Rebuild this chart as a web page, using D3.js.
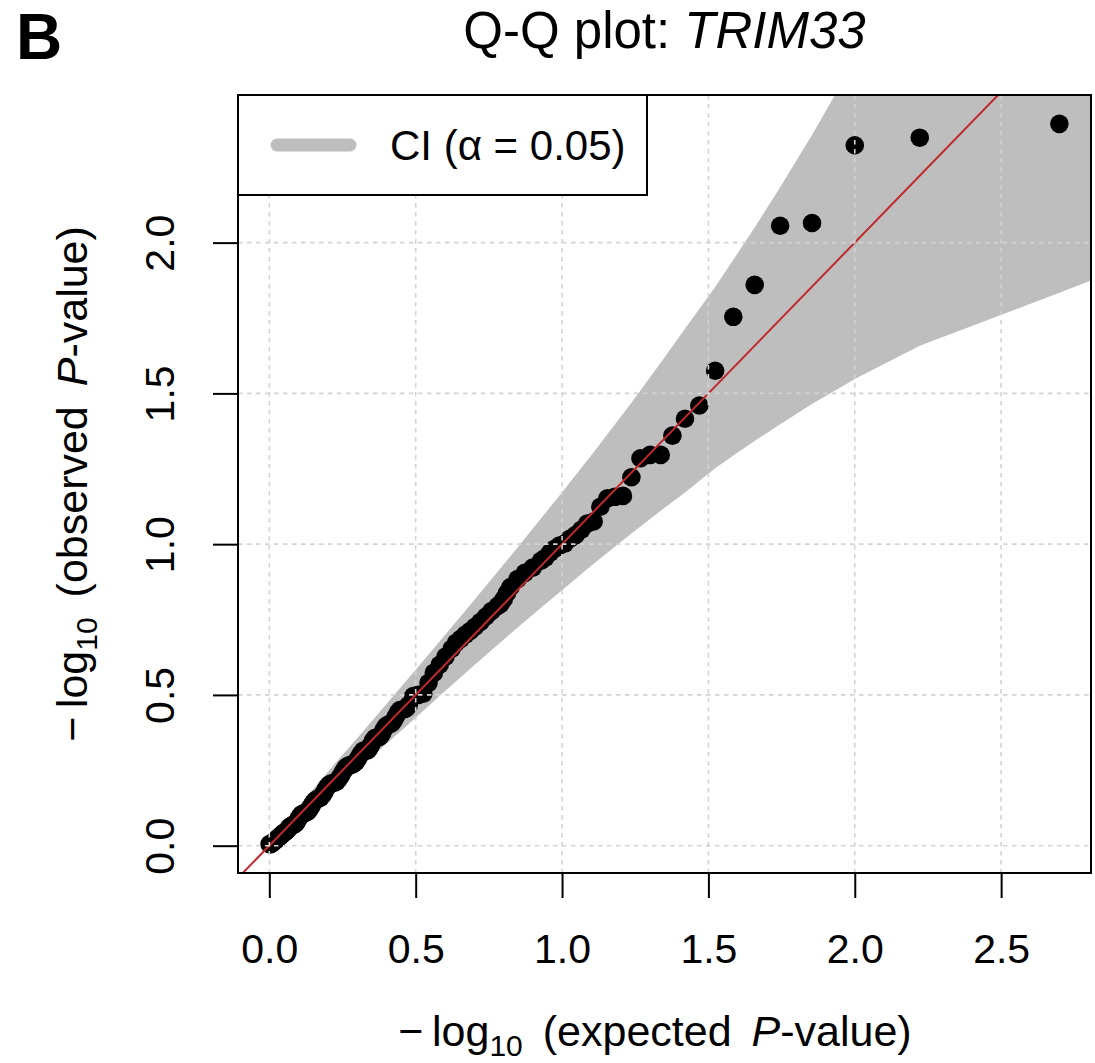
<!DOCTYPE html>
<html>
<head>
<meta charset="utf-8">
<script src="https://cdn.jsdelivr.net/npm/d3@7"></script>
<style>
  html, body { margin: 0; padding: 0; background: #fff; }
  svg { display: block; font-family: "Liberation Sans", Arial, sans-serif; }
</style>
</head>
<body>
<div id="chart"></div>
<script>
// ---- data ----
const expectedP = [2.699, 2.222, 2.000, 1.854, 1.745, 1.658, 1.585, 1.523, 1.469, 1.420,
  1.377, 1.337, 1.301, 1.268, 1.237, 1.208, 1.180, 1.155, 1.131, 1.108,
  1.086, 1.066, 1.046, 1.027, 1.009, 0.991, 0.975, 0.959, 0.943, 0.928,
  0.900, 0.873, 0.848, 0.824, 0.812, 0.801, 0.790, 0.780, 0.759, 0.740, 0.721, 0.703, 0.686, 0.670, 0.654, 0.638, 0.623,
  0.602, 0.582, 0.562, 0.544, 0.526, 0.509, 0.492,
  0.476, 0.468, 0.461, 0.453, 0.446, 0.439, 0.432, 0.425, 0.418, 0.411,
  0.405, 0.398, 0.391, 0.385, 0.379, 0.373, 0.367, 0.361, 0.355, 0.349,
  0.343, 0.337, 0.332, 0.326, 0.321, 0.312, 0.303, 0.295, 0.286, 0.278,
  0.269, 0.261, 0.253, 0.245, 0.238, 0.230, 0.223, 0.216, 0.209, 0.202,
  0.195, 0.188, 0.182, 0.175, 0.169, 0.162, 0.156, 0.150, 0.144, 0.138,
  0.132, 0.126, 0.120, 0.114, 0.109, 0.103, 0.098, 0.092, 0.087, 0.082,
  0.077, 0.072, 0.067, 0.062, 0.057, 0.052, 0.047, 0.042, 0.037, 0.032,
  0.028, 0.023, 0.019, 0.014, 0.010, 0.005, 0.001];
const observedP = [2.394, 2.348, 2.323, 2.065, 2.056, 1.860, 1.754, 1.575, 1.460, 1.416,
  1.360, 1.296, 1.296, 1.285, 1.222, 1.160, 1.157, 1.152, 1.124, 1.075,
  1.068, 1.048, 1.030, 1.018, 1.002, 0.995, 0.985, 0.972, 0.955, 0.945,
  0.922, 0.905, 0.884, 0.858, 0.838, 0.818, 0.802, 0.795, 0.778, 0.760, 0.742, 0.726, 0.712, 0.700, 0.686, 0.673, 0.653,
  0.627, 0.600, 0.573, 0.540, 0.504, 0.500, 0.496,
  0.466, 0.456, 0.453, 0.451, 0.450, 0.441, 0.428, 0.415, 0.406, 0.403,
  0.401, 0.396, 0.385, 0.373, 0.363, 0.359, 0.359, 0.357, 0.349, 0.337,
  0.325, 0.317, 0.316, 0.316, 0.315, 0.304, 0.289, 0.277, 0.270, 0.268,
  0.265, 0.259, 0.247, 0.233, 0.222, 0.212, 0.209, 0.208, 0.205, 0.200,
  0.191, 0.178, 0.168, 0.159, 0.157, 0.154, 0.150, 0.142, 0.132, 0.122,
  0.114, 0.110, 0.108, 0.106, 0.103, 0.095, 0.086, 0.076, 0.071, 0.070,
  0.067, 0.064, 0.059, 0.052, 0.047, 0.044, 0.041, 0.036, 0.031, 0.028,
  0.024, 0.019, 0.017, 0.012, 0.008, 0.005, 0.005];

// confidence band (alpha = 0.05)
const ciX     = [3.000, 2.699, 2.222, 2.000, 1.854, 1.745, 1.658, 1.585, 1.523, 1.420, 1.337, 1.237, 1.108, 1.009, 0.928, 0.801, 0.703, 0.588, 0.498, 0.400, 0.303, 0.223, 0.156, 0.098, 0.047, 0.019, 0.010, 0.001];
const ciLower = [1.946, 1.834, 1.658, 1.548, 1.465, 1.398, 1.342, 1.294, 1.252, 1.171, 1.111, 1.035, 0.935, 0.855, 0.789, 0.684, 0.601, 0.502, 0.423, 0.338, 0.252, 0.182, 0.124, 0.073, 0.031, 0.010, 0.004, 0.000];
const ciUpper = [4.500, 3.994, 3.012, 2.604, 2.357, 2.184, 2.050, 1.943, 1.853, 1.714, 1.602, 1.469, 1.305, 1.183, 1.085, 0.933, 0.818, 0.685, 0.581, 0.470, 0.360, 0.271, 0.194, 0.128, 0.068, 0.032, 0.020, 0.006];

const xTickValues = [0, 0.5, 1.0, 1.5, 2.0, 2.5];
const yTickValues = [0, 0.5, 1.0, 1.5, 2.0];
const titleText = "Q-Q plot: ";
const titleGene = "TRIM33";
const legendLabel = "CI (\u03B1 = 0.05)";
const panelLabel = "B";

// ---- layout ----
const W = 1095, H = 1063;
const L = 238, R = 1091, T = 95, B = 873;
const baseFont = 41;

const svg = d3.select("#chart").append("svg")
  .attr("width", W).attr("height", H);

const x = d3.scaleLinear().domain([-0.107, 2.807]).range([L, R]);
const y = d3.scaleLinear().domain([-0.0906, 2.4896]).range([B, T]);

svg.append("defs").append("clipPath").attr("id", "plotclip")
  .append("rect").attr("x", L).attr("y", T).attr("width", R - L).attr("height", B - T);

const plot = svg.append("g").attr("clip-path", "url(#plotclip)");

// CI band
const bandData = ciX.map((d, i) => ({ x: d, lo: ciLower[i], hi: ciUpper[i] }));
plot.append("path")
  .datum(bandData)
  .attr("fill", "#BEBEBE")
  .attr("d", d3.area().x(d => x(d.x)).y0(d => y(d.lo)).y1(d => y(d.hi)));

// points
plot.selectAll("circle.pt")
  .data(expectedP.map((d, i) => ({ e: d, o: observedP[i] })))
  .join("circle")
  .attr("class", "pt")
  .attr("cx", d => x(d.e))
  .attr("cy", d => y(d.o))
  .attr("r", 9.3)
  .attr("fill", "#000");

// diagonal y = x
const dom = x.domain();
plot.append("line")
  .attr("x1", x(dom[0])).attr("y1", y(dom[0]))
  .attr("x2", x(dom[1])).attr("y2", y(dom[1]))
  .attr("stroke", "#C0282B").attr("stroke-width", 2);

// grid (drawn over points)
const grid = plot.append("g").attr("stroke", "#D3D3D3").attr("stroke-width", 1.6)
  .attr("stroke-dasharray", "4.5,4.5");
grid.selectAll("line.gx").data(xTickValues).join("line").attr("class", "gx")
  .attr("x1", d => x(d)).attr("x2", d => x(d)).attr("y1", T).attr("y2", B);
grid.selectAll("line.gy").data(yTickValues).join("line").attr("class", "gy")
  .attr("y1", d => y(d)).attr("y2", d => y(d)).attr("x1", L).attr("x2", R);

// axes
const fmt = d3.format(".1f");
const xAxis = svg.append("g").attr("transform", `translate(0,${B})`)
  .call(d3.axisBottom(x).tickValues(xTickValues).tickFormat(fmt).tickSize(25).tickPadding(36));
xAxis.select(".domain").remove();
xAxis.selectAll(".tick line").attr("stroke", "#000").attr("stroke-width", 2);
xAxis.selectAll(".tick text").attr("font-size", baseFont).attr("fill", "#000")
  .attr("font-family", "Liberation Sans, Arial, sans-serif");

const yAxis = svg.append("g").attr("transform", `translate(${L},0)`)
  .call(d3.axisLeft(y).tickValues(yTickValues).tickFormat(fmt).tickSize(25));
yAxis.select(".domain").remove();
yAxis.selectAll(".tick line").attr("stroke", "#000").attr("stroke-width", 2);
yAxis.selectAll(".tick text").remove();
yAxis.selectAll(".tick").append("text")
  .attr("transform", "translate(-64,0) rotate(-90)")
  .attr("text-anchor", "middle")
  .attr("font-size", baseFont)
  .attr("fill", "#000")
  .attr("font-family", "Liberation Sans, Arial, sans-serif")
  .text(d => fmt(d));

// box
svg.append("rect").attr("x", L).attr("y", T).attr("width", R - L).attr("height", B - T)
  .attr("fill", "none").attr("stroke", "#000").attr("stroke-width", 2);

// legend
const lg = svg.append("g");
lg.append("rect").attr("x", L).attr("y", T).attr("width", 409).attr("height", 100)
  .attr("fill", "#fff").attr("stroke", "#000").attr("stroke-width", 2);
lg.append("line").attr("x1", 277).attr("x2", 350).attr("y1", 145).attr("y2", 145)
  .attr("stroke", "#BEBEBE").attr("stroke-width", 13).attr("stroke-linecap", "round");
lg.append("text").attr("x", 390).attr("y", 160).attr("font-size", 42).attr("fill", "#000")
  .text(legendLabel);

// title
const title = svg.append("text").attr("x", (L + R) / 2).attr("y", 48)
  .attr("text-anchor", "middle").attr("font-size", 51).attr("fill", "#000");
title.append("tspan").text(titleText);
title.append("tspan").attr("font-style", "italic").text(titleGene);

// panel label
svg.append("text").attr("x", 16).attr("y", 59).attr("font-size", 64)
  .attr("font-weight", "bold").attr("fill", "#000").text(panelLabel);

// axis titles
function axisTitle(sel, word) {
  sel.append("tspan").text("\u2212\u2009log");
  sel.append("tspan").attr("font-size", 30).attr("dy", 10).text("10");
  sel.append("tspan").attr("dy", -10).text(" (" + word + " ");
  sel.append("tspan").attr("font-style", "italic").text("P");
  sel.append("tspan").text("-value)");
}
const xt = svg.append("text").attr("x", 655).attr("y", 1046)
  .attr("text-anchor", "middle").attr("font-size", 43).attr("fill", "#000")
  .attr("word-spacing", 8);
axisTitle(xt, "expected");

const yt = svg.append("text")
  .attr("transform", `translate(87,${(T + B) / 2}) rotate(-90)`)
  .attr("text-anchor", "middle").attr("font-size", 43).attr("fill", "#000")
  .attr("word-spacing", 8);
axisTitle(yt, "observed");
</script>
</body>
</html>
